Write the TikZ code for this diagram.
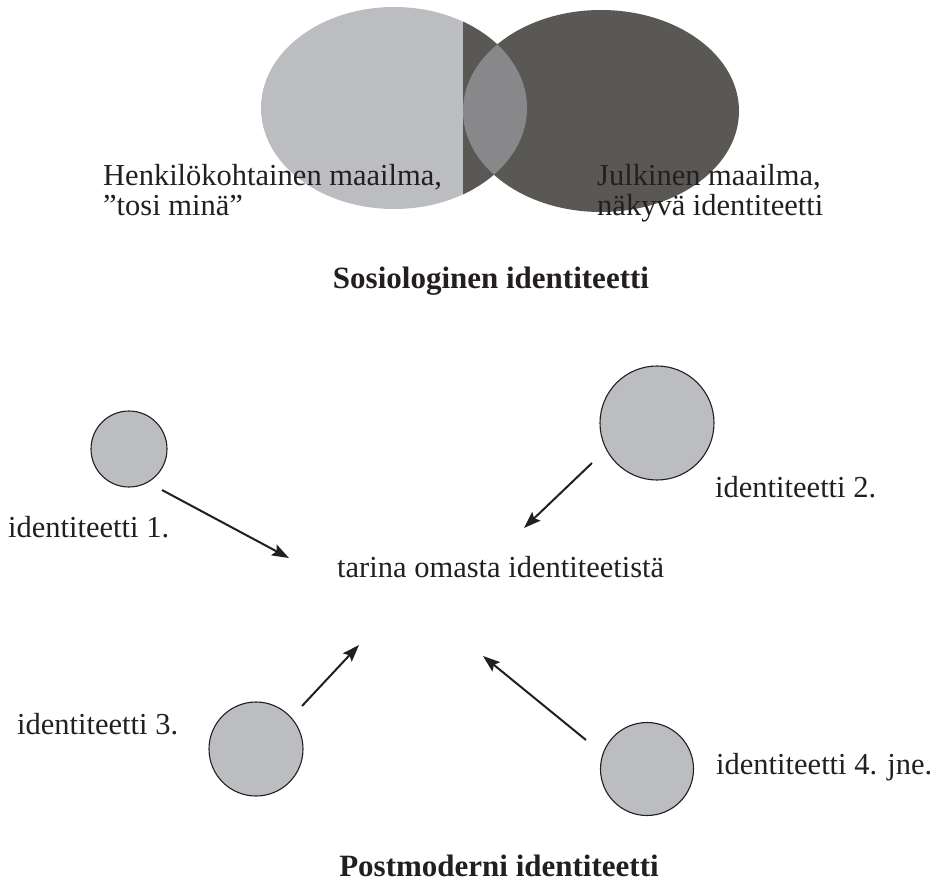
\documentclass[tikz,border=0pt]{standalone}
\usepackage{fontspec}
\setmainfont{Liberation Serif}
\usetikzlibrary{arrows.meta}
\definecolor{inkc}{HTML}{231F20}
\definecolor{lightg}{HTML}{BCBDC0}
\definecolor{darkg}{HTML}{5A5854}
\definecolor{midg}{HTML}{88888A}
\tikzset{
  lbl/.style={text=inkc, inner sep=0pt, anchor=base west, font=\fontsize{30.5}{30}\selectfont},
  ttl/.style={text=inkc, inner sep=0pt, anchor=base, font=\bfseries\fontsize{31}{30}\selectfont},
  idc/.style={circle, draw=inkc, line width=1.1pt, fill=lightg, inner sep=0pt},
  idarrow/.style={draw=inkc, line width=2pt, -{Stealth[length=17pt,width=12pt,inset=3pt]}},
}
\begin{document}
\begin{tikzpicture}[x=1pt,y=-1pt]
\useasboundingbox (0,0) rectangle (936,881);

% --- Venn diagram: private and public worlds ---
\fill[lightg] (394,108) ellipse [x radius=133, y radius=101];
\begin{scope}
  \clip (463,0) rectangle (600,230);
  \fill[darkg] (394,108) ellipse [x radius=133, y radius=101];
\end{scope}
\fill[darkg] (601,111) ellipse [x radius=138, y radius=101];
\begin{scope}
  \clip (394,108) ellipse [x radius=133, y radius=101];
  \fill[midg] (601,111) ellipse [x radius=138, y radius=101];
\end{scope}

\node[lbl] (priv1) at (103,185) {Henkilökohtainen maailma,};
\node[lbl] (priv2) at (103,215) {”tosi minä”};
\node[lbl] (pub1) at (597,185) {Julkinen maailma,};
\node[lbl] (pub2) at (597,215) {näkyvä identiteetti};
\node[ttl] (sosio) at (491,288) {Sosiologinen identiteetti};

% --- Postmodern identity: many identities feeding one story ---
\node[idc, minimum size=76pt] (c1) at (129,449) {};
\node[idc, minimum size=114pt] (c2) at (657,423) {};
\node[idc, minimum size=94pt] (c3) at (256,749) {};
\node[idc, minimum size=93pt] (c4) at (647,769) {};

\node[lbl] (l1) at (8,537) {identiteetti 1.};
\node[lbl] (l2) at (715,497) {identiteetti 2.};
\node[lbl] (l3) at (17,734) {identiteetti 3.};
\node[lbl] (l4) at (716,774) {identiteetti 4. jne.};
\node[lbl] (story) at (337,577) {tarina omasta identiteetistä};
\node[ttl] (postmod) at (499,876) {Postmoderni identiteetti};

\coordinate (s1) at (162,490);  \coordinate (e1) at (289,558);
\coordinate (s2) at (592,463);  \coordinate (e2) at (524,528);
\coordinate (s3) at (302,706);  \coordinate (e3) at (359,645);
\coordinate (s4) at (586,740);  \coordinate (e4) at (483,656);
\draw[idarrow] (s1) -- (e1);
\draw[idarrow] (s2) -- (e2);
\draw[idarrow] (s3) -- (e3);
\draw[idarrow] (s4) -- (e4);
\end{tikzpicture}
\end{document}
